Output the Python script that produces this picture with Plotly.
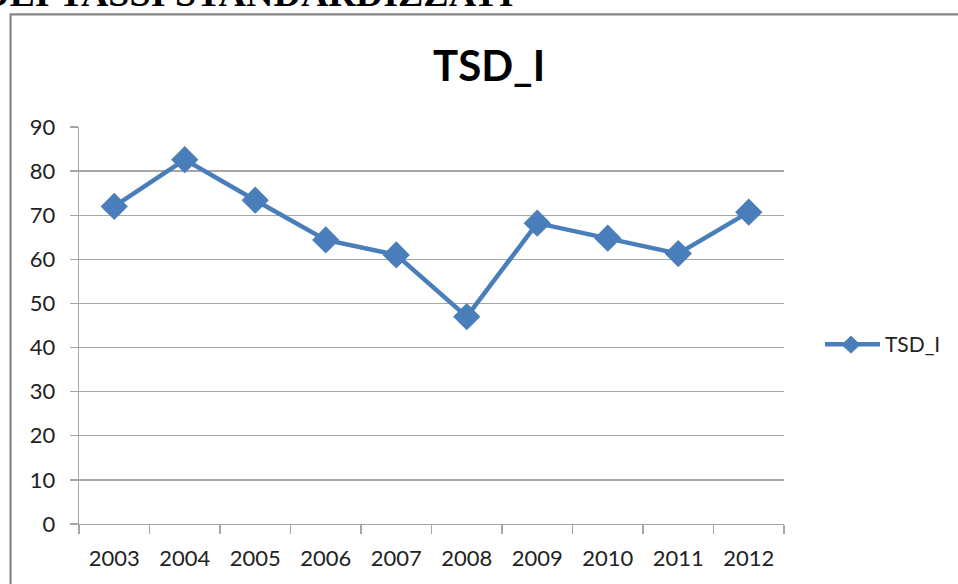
import plotly.graph_objects as go

years = ["2003", "2004", "2005", "2006", "2007", "2008", "2009", "2010", "2011", "2012"]
tsd_i = [72.0, 82.6, 73.4, 64.4, 61.0, 47.0, 68.2, 64.8, 61.3, 70.7]
y_ticks = [0, 10, 20, 30, 40, 50, 60, 70, 80, 90]

W, H = 958, 584
L, R, T, B = 78.5, 784, 126.7, 524
PW, PH = R - L, B - T

def px(x):
    return (x - L) / PW

def py(y):
    return (B - y) / PH

BLUE = "#4a7ebb"
GRID = "#a6a6a6"
FONT = "Lato, 'Open Sans', sans-serif"

fig = go.Figure()
fig.add_trace(go.Scatter(
    x=years, y=tsd_i, mode="lines+markers", name="TSD_I",
    line=dict(color=BLUE, width=4.5),
    marker=dict(symbol="diamond", size=21, color=BLUE),
    showlegend=False, cliponaxis=False,
))

fig.update_layout(
    width=W, height=H,
    margin=dict(l=L, r=W - R, t=T, b=H - B, pad=0),
    paper_bgcolor="white", plot_bgcolor="white",
    font=dict(family=FONT, size=22, color="#222222"),
    xaxis=dict(
        type="category", tickson="boundaries", ticks="outside", ticklen=9,
        tickcolor=GRID, tickwidth=1.3, showgrid=False,
        showline=True, linecolor=GRID, linewidth=1.3,
        ticklabelstandoff=14, tickfont=dict(size=22, family=FONT, color="#222222"),
        range=[-0.5, 9.5], fixedrange=True,
    ),
    yaxis=dict(
        range=[0, 90], tickvals=y_ticks, ticks="outside", ticklen=8,
        tickcolor=GRID, tickwidth=1.3, showgrid=True, gridcolor=GRID, gridwidth=1.3,
        showline=True, linecolor=GRID, linewidth=1.3, zeroline=False,
        ticklabelstandoff=10, tickfont=dict(size=22, family=FONT, color="#222222"),
        fixedrange=True,
    ),
)

# outer chart border (extends beyond the page at right/bottom)
fig.add_shape(type="rect", xref="paper", yref="paper",
              x0=px(10), x1=px(975), y0=py(14), y1=py(600),
              line=dict(color="#858585", width=2.2), fillcolor="rgba(0,0,0,0)", layer="below")

# page heading, cut off at the top
fig.add_annotation(text="<b>DEI TASSI STANDARDIZZATI</b>", xref="paper", yref="paper",
                   x=px(-20), y=py(15), xanchor="left", yanchor="bottom", showarrow=False,
                   borderpad=0, font=dict(family="'Liberation Serif', 'Times New Roman', serif", size=38, color="black"))

# chart title
fig.add_annotation(text="<b>TSD_I</b>", xref="paper", yref="paper",
                   x=px(489), y=py(65), xanchor="center", yanchor="middle", showarrow=False,
                   font=dict(family=FONT, size=42, color="black"))

# legend
fig.add_shape(type="line", xref="paper", yref="paper",
              x0=px(825), x1=px(880), y0=py(344), y1=py(344),
              line=dict(color=BLUE, width=4.5))
cx, cy, hw, hh = 851, 344.5, 9, 8.5
fig.add_shape(type="path", xref="paper", yref="paper",
              path=f"M {px(cx - hw)} {py(cy)} L {px(cx)} {py(cy - hh)} L {px(cx + hw)} {py(cy)} L {px(cx)} {py(cy + hh)} Z",
              line=dict(color=BLUE, width=1), fillcolor=BLUE)
fig.add_annotation(text="TSD_I", xref="paper", yref="paper",
                   x=px(883), y=py(343), xanchor="left", yanchor="middle", showarrow=False,
                   font=dict(family=FONT, size=21, color="#222222"))

fig.write_html("out.html", config={"displayModeBar": False, "staticPlot": True},
               post_script="document.body.style.margin='0px';document.body.style.padding='0px';")
